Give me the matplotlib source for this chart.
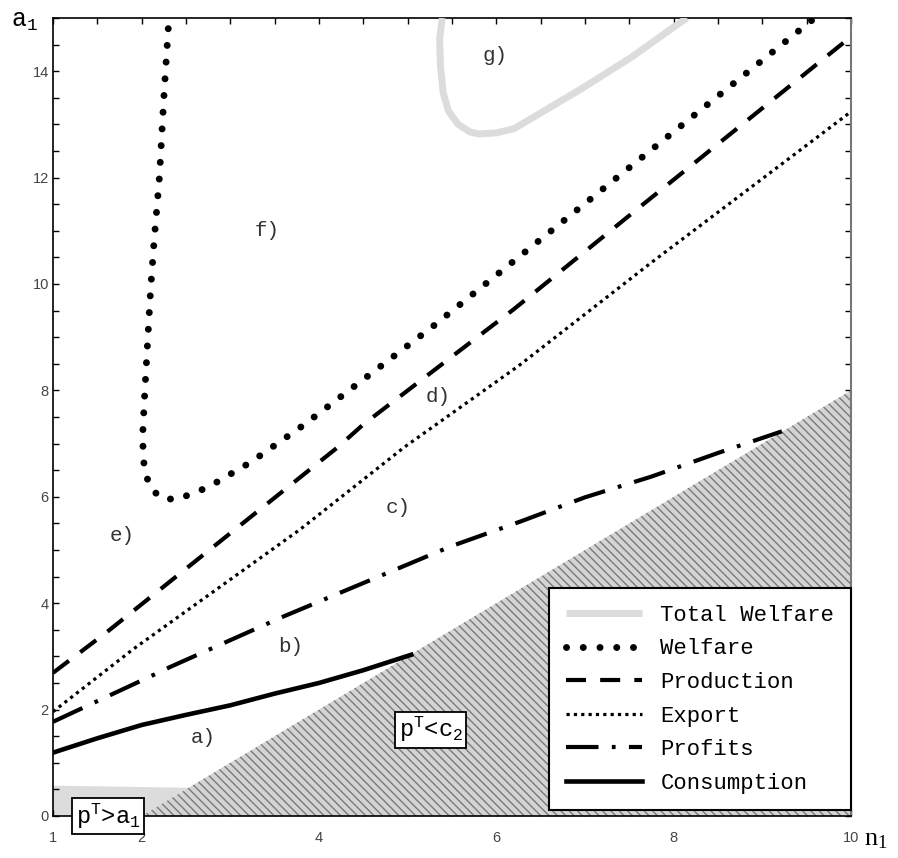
import matplotlib
matplotlib.use("Agg")
import matplotlib.pyplot as plt
from matplotlib.ticker import MultipleLocator

# curves (n1, a1)
tw_x = [5.39, 5.36, 5.37, 5.40, 5.46, 5.57, 5.70, 5.80, 6.00, 6.20, 6.96, 7.53, 8.06, 8.15]
tw_y = [15.0, 14.6, 14.1, 13.6, 13.25, 13.0, 12.86, 12.82, 12.84, 12.92, 13.67, 14.27, 14.9, 15.0]

welf_x = [2.30, 2.25, 2.20, 2.14, 2.10, 2.06, 2.03, 2.01, 2.03, 2.10, 2.22, 2.40,
          2.75, 3.23, 3.82, 5.29, 7.02, 7.30, 9.59]
welf_y = [14.8, 13.5, 12.0, 10.8, 9.87, 8.7, 7.8, 7.1, 6.5, 6.17, 5.97, 5.95,
          6.18, 6.65, 7.34, 9.21, 11.54, 11.92, 15.0]

prod_x = [1.0, 1.61, 4.21, 4.5, 6.2, 7.62, 10.0]
prod_y = [2.69, 3.46, 6.93, 7.36, 9.53, 11.45, 14.65]

exp_x = [1.0, 1.9, 3.79, 4.96, 6.25, 7.73, 10.0]
exp_y = [1.96, 3.13, 5.39, 6.93, 8.46, 10.38, 13.24]

prof_x = [1.0, 2.21, 2.32, 3.6, 4.33, 5.49, 6.28, 7.0, 7.75, 8.51, 9.22]
prof_y = [1.77, 2.71, 2.8, 3.75, 4.26, 5.07, 5.54, 5.99, 6.38, 6.83, 7.23]

cons_x = [1.0, 1.5, 2.0, 2.5, 3.0, 3.5, 4.0, 4.5, 5.04]
cons_y = [1.19, 1.46, 1.71, 1.9, 2.08, 2.3, 2.5, 2.74, 3.03]

# shaded regions
grey_x = [1.0, 1.0, 2.53, 2.0]
grey_y = [0.0, 0.57, 0.53, 0.0]
hatch_x = [2.0, 10.0, 10.0]
hatch_y = [0.0, 8.0, 0.0]

regions = ["a)", "b)", "c)", "d)", "e)", "f)", "g)"]
region_x = [2.70, 3.68, 4.89, 5.34, 1.78, 3.42, 5.99]
region_y = [1.47, 3.18, 5.80, 7.89, 5.27, 11.0, 14.29]

plt.rcParams["hatch.color"] = "#7a7a7a"
plt.rcParams["hatch.linewidth"] = 1.0
mono = "Liberation Mono"

fig = plt.figure(figsize=(8.98, 8.58), dpi=100)
ax = fig.add_axes([0.059, 0.049, 0.8887, 0.930])

ax.fill(grey_x, grey_y, color="#dcdcdc", lw=0, zorder=1)
ax.fill(hatch_x, hatch_y, facecolor="#d4d4d4", edgecolor="#7a7a7a", lw=0,
        hatch="\\\\\\\\", zorder=2)

ax.plot(tw_x, tw_y, color="#dcdcdc", lw=5, solid_capstyle="butt",
        solid_joinstyle="round", label="Total Welfare", zorder=3)
ax.plot(welf_x, welf_y, color="black", lw=5, linestyle=(0, (0.01, 2.4)),
        dash_capstyle="round", label="Welfare", zorder=4)
ax.plot(prod_x, prod_y, color="black", lw=3, linestyle=(0, (4.8, 3.4)),
        label="Production", zorder=4)
ax.plot(exp_x, exp_y, color="black", lw=2.3, linestyle=(0, (1, 1.3)),
        label="Export", zorder=4)
ax.plot(prof_x, prof_y, color="black", lw=3, linestyle=(0, (7.8, 3.2, 0.9, 3.2)),
        label="Profits", zorder=4)
ax.plot(cons_x, cons_y, color="black", lw=3.3, label="Consumption", zorder=4)

for lab, x, y in zip(regions, region_x, region_y):
    ax.text(x, y, lab, fontsize=15, family=mono, color="#333333",
            ha="center", va="center")

box = dict(boxstyle="square,pad=0.15", facecolor="white", edgecolor="black", lw=1.3)
ax.text(1.62, 0.0, r"p$\mathregular{^T}$>a$\mathregular{_1}$", fontsize=17,
        family=mono, ha="center", va="center", bbox=box, zorder=6, clip_on=False)
ax.text(5.26, 1.62, r"p$\mathregular{^T}$<c$\mathregular{_2}$", fontsize=17,
        family=mono, ha="center", va="center", bbox=box, zorder=6)

ax.set_xlim(1, 10)
ax.set_ylim(0, 15)
ax.set_xticks([1, 2, 4, 6, 8, 10])
ax.set_yticks(range(0, 16, 2))
ax.xaxis.set_minor_locator(MultipleLocator(0.5))
ax.yaxis.set_minor_locator(MultipleLocator(0.5))
ax.tick_params(which="both", direction="in", top=True, right=True,
               length=4.5, width=1, colors="black", labelcolor="#444444",
               labelsize=10.5)
ax.tick_params(axis="x", which="major", pad=11)
ax.tick_params(axis="y", which="major", pad=3)
for lbl in ax.get_xticklabels() + ax.get_yticklabels():
    lbl.set_family("Liberation Sans")
for side in ["left", "bottom", "top"]:
    ax.spines[side].set_linewidth(1.2)
ax.spines["right"].set_color("#777777")
ax.spines["right"].set_linewidth(1.5)

fig.text(0.012, 0.975, r"a$\mathregular{_1}$", fontsize=18, family=mono,
         ha="left", va="center")
fig.text(0.975, 0.008, r"n$\mathregular{_1}$", fontsize=19, family="Liberation Serif",
         ha="center", va="bottom")

leg = ax.legend(loc="lower right", bbox_to_anchor=(1.0, 0.007), borderaxespad=0,
                prop={"family": mono, "size": 16},
                handlelength=3.4, handletextpad=0.85, labelspacing=0.565,
                borderpad=0.75, fancybox=False, framealpha=1, edgecolor="black")
leg.get_frame().set_linewidth(1.5)
leg.set_zorder(7)

fig.savefig("out.png", dpi=100)
